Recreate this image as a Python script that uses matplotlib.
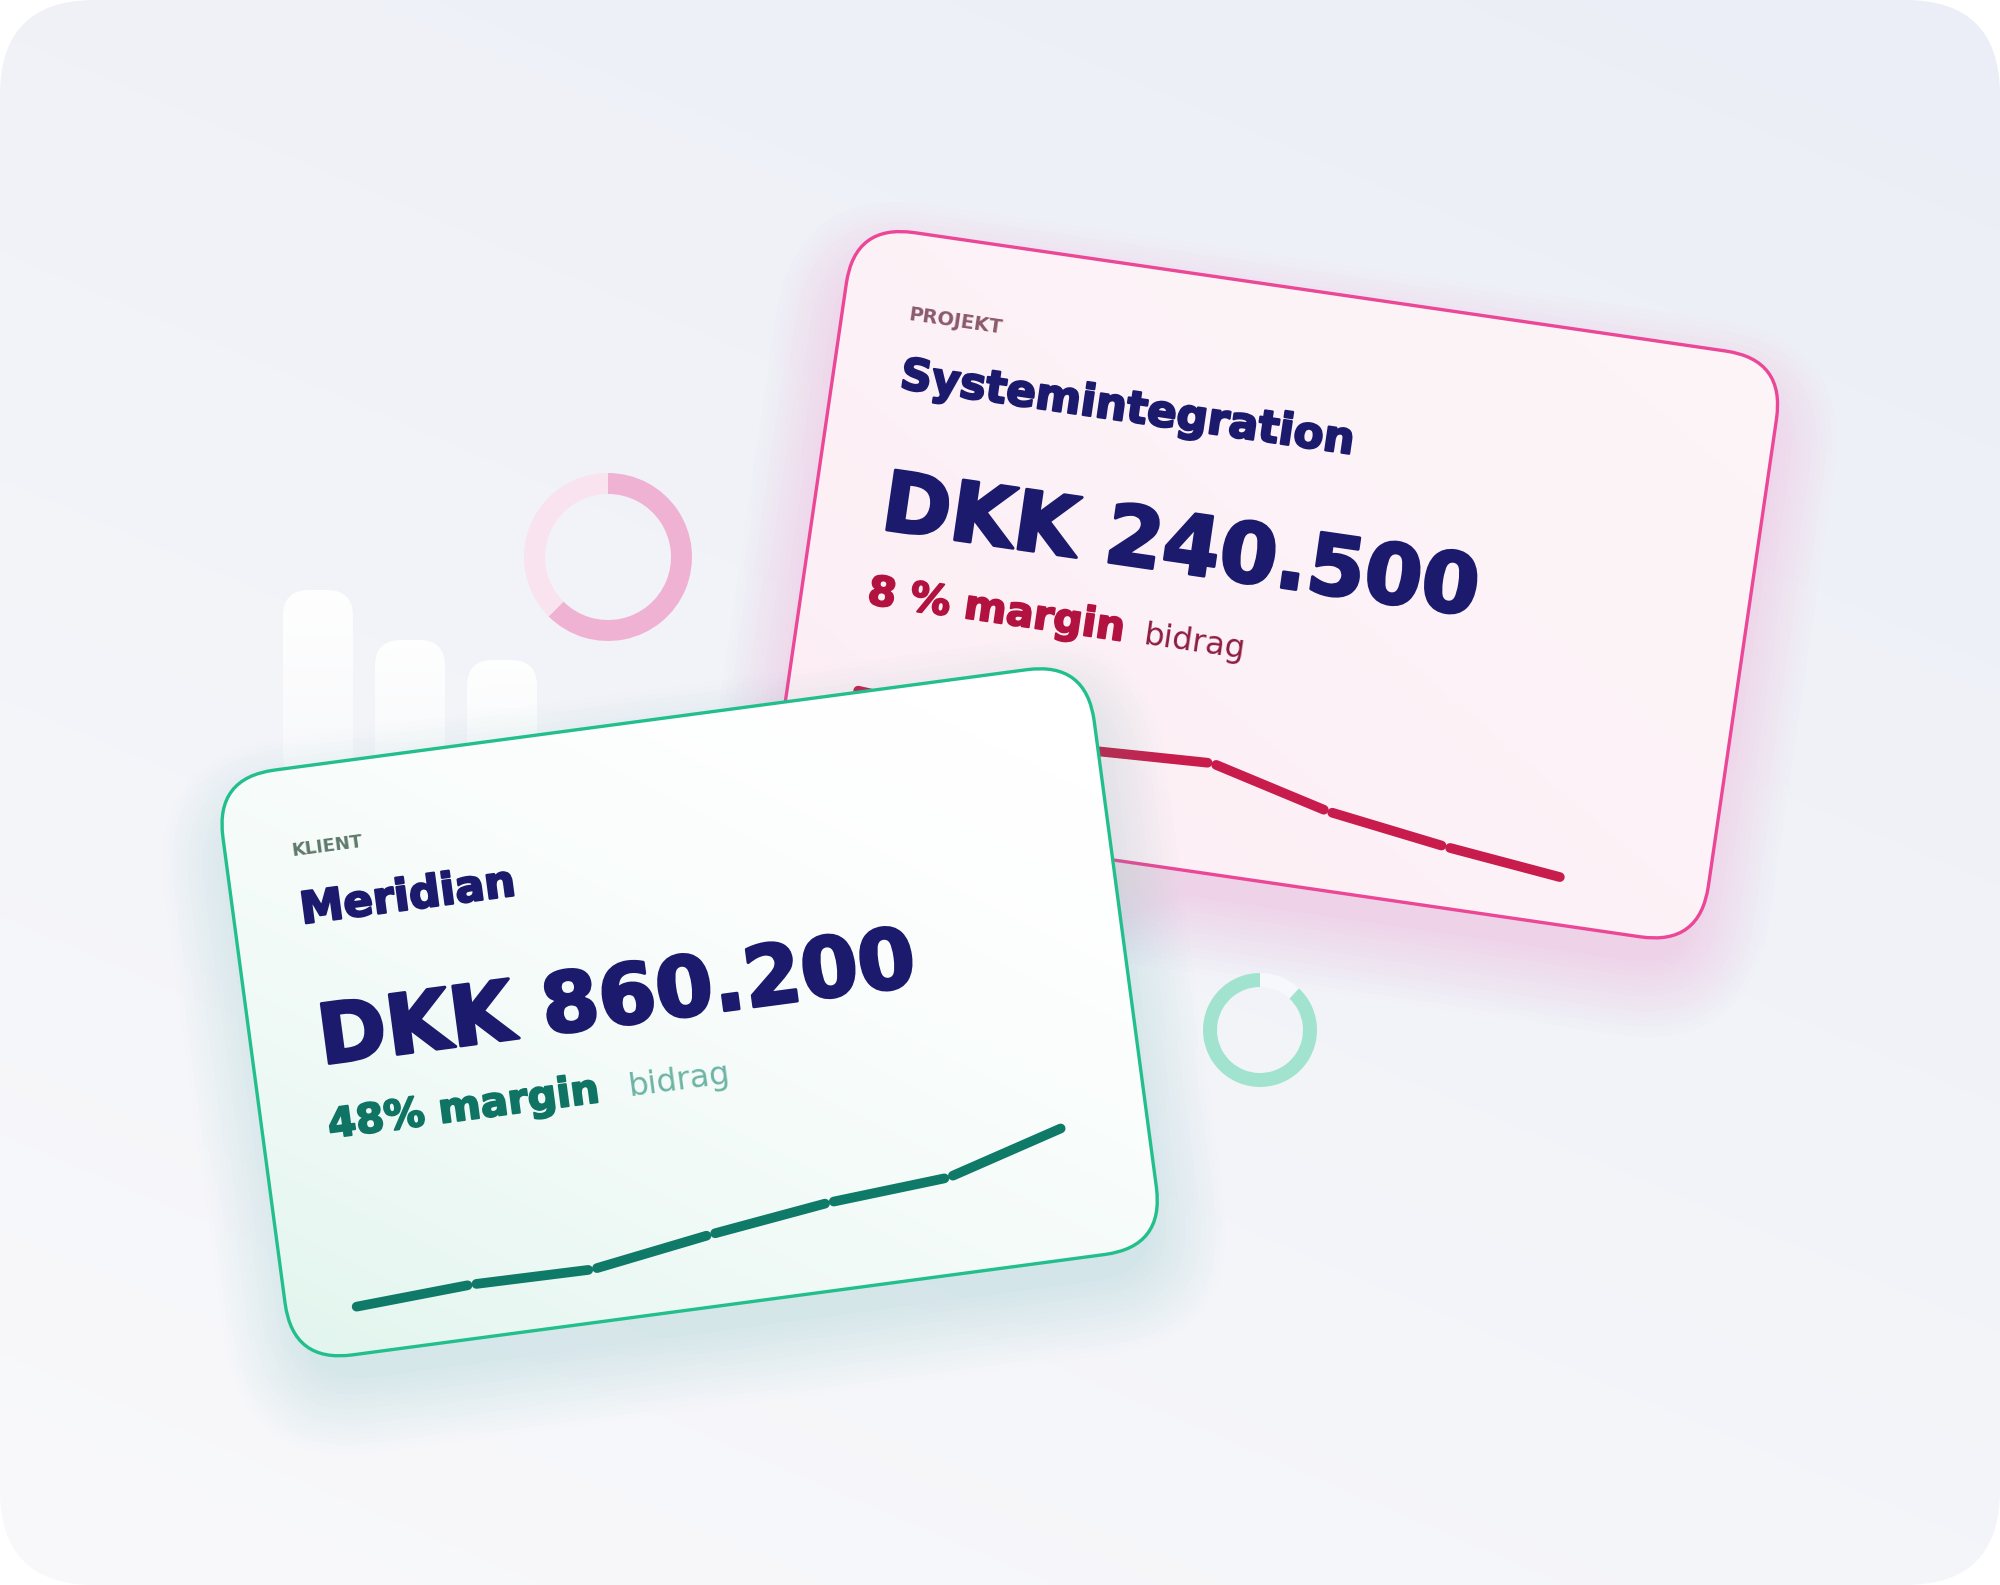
import numpy as np
import matplotlib
matplotlib.use('Agg')
import matplotlib.pyplot as plt
import matplotlib.patheffects as pe
from matplotlib.patches import FancyBboxPatch
from matplotlib.transforms import Affine2D
from matplotlib.colors import LinearSegmentedColormap


# card texts
projekt_label  = "PROJEKT"
projekt_name   = "Systemintegration"
projekt_amount = "DKK 240.500"
projekt_margin = "8 % margin"
klient_label   = "KLIENT"
klient_name    = "Meridian"
klient_amount  = "DKK 860.200"
klient_margin  = "48% margin"
margin_suffix  = "bidrag"

# sparkline values per period (relative index)
projekt_trend = [101, 92, 75, 80, 49, 31, 17]
klient_trend  = [19, 26, 25, 44, 60, 69, 104]

# decorative donuts (share from 12 o'clock, clockwise)
pink_donut  = [62.5, 37.5]
green_donut = [12, 88]

# faint bars in the background
bg_bar_heights = [190, 140, 120]


W_PX, H_PX = 2000, 1585
fig = plt.figure(figsize=(20, 15.85), dpi=100)
fig.patch.set_facecolor('white')
ax = fig.add_axes([0, 0, 1, 1])
ax.axis('off')

# background panel with rounded corners
panel = FancyBboxPatch((0, 0), W_PX, H_PX, boxstyle='round,pad=0,rounding_size=95',
                       facecolor='none', edgecolor='none')
ax.add_patch(panel)
yy, xx = np.mgrid[0:1:300j, 0:1:300j]
bg_grad = 0.65 * yy + 0.35 * (1 - xx)
bg_cmap = LinearSegmentedColormap.from_list('bg', ['#ebeef6', '#f9f9fb'])
im = ax.imshow(bg_grad, cmap=bg_cmap, extent=(0, W_PX, H_PX, 0), aspect='auto',
               interpolation='bilinear', zorder=0)
im.set_clip_path(panel)

# faint white bars fading downwards
bar_base = 780
for i, hgt in enumerate(bg_bar_heights):
    x0 = 283 + i * 92
    bar = FancyBboxPatch((x0, bar_base - hgt), 70, hgt,
                         boxstyle='round,pad=0,rounding_size=26',
                         facecolor='none', edgecolor='none')
    ax.add_patch(bar)
    rgba = np.ones((100, 1, 4))
    rgba[:, 0, 3] = np.linspace(0.95, 0.4, 100)
    bim = ax.imshow(rgba, extent=(x0, x0 + 70, bar_base, bar_base - hgt),
                    aspect='auto', interpolation='bilinear', zorder=1)
    bim.set_clip_path(bar)


def card_tf(x0, y0, angle):
    return Affine2D().rotate_deg(angle).translate(x0, y0)


def draw_card(aff, w, h, c_light, c_tint, edge, glow, z):
    tf = aff + ax.transData
    # soft glow, mostly below the card
    for k in range(16):
        s = k * 5
        ax.add_patch(FancyBboxPatch((-s + 10, -s + 45), w + 2 * s - 20, h + 2 * s - 20,
                     boxstyle=f'round,pad=0,rounding_size={60 + s}', transform=tf,
                     facecolor=glow, edgecolor='none', alpha=0.011, zorder=z))
    body = FancyBboxPatch((0, 0), w, h, boxstyle='round,pad=0,rounding_size=60',
                          transform=tf, facecolor=c_light, edgecolor='none', zorder=z + 0.1)
    ax.add_patch(body)
    # tint towards the lower left corner
    vv, uu = np.mgrid[0:1:200j, 0:1:200j]
    g = np.clip(0.55 * vv + 0.55 * (1 - uu) - 0.1, 0, 1) ** 1.6
    cm = LinearSegmentedColormap.from_list('c', [c_light, c_tint])
    cim = ax.imshow(g, cmap=cm, extent=(0, w, h, 0), aspect='auto',
                    interpolation='bilinear', zorder=z + 0.2)
    cim.set_transform(tf)
    cim.set_clip_path(body)
    ax.add_patch(FancyBboxPatch((0, 0), w, h, boxstyle='round,pad=0,rounding_size=60',
                                transform=tf, facecolor='none', edgecolor=edge,
                                lw=2.4, zorder=z + 0.3))


def card_text(aff, u, v, s, size, color, weight, angle, z, heavy=0):
    t = ax.text(u, v, s, transform=aff + ax.transData, fontsize=size, color=color,
                fontweight=weight, rotation=-angle, rotation_mode='anchor',
                ha='left', va='baseline', zorder=z)
    if heavy:
        # thicken glyphs a little, the original uses a black weight
        t.set_path_effects([pe.withStroke(linewidth=heavy, foreground=color)])


def draw_trend(aff, values, color, z):
    step = 121.7
    spark = Affine2D().scale(step, -1).translate(66, 562) + aff + ax.transData
    for i in range(len(values) - 1):
        v0, v1 = values[i], values[i + 1]
        seg = np.hypot(step, v1 - v0)
        f = 4.5 / seg
        xs = [i + f, i + 1 - f]
        ys = [v0 + f * (v1 - v0), v1 - f * (v1 - v0)]
        ax.plot(xs, ys, transform=spark, color=color, lw=7,
                solid_capstyle='round', zorder=z)


navy = '#1c1a6c'

# back card: project
p_ang = 8.3
p_aff = card_tf(855, 224, p_ang)
draw_card(p_aff, 940, 592, '#fdf4f8', '#fcedf4', '#ec4697', '#ee6fb3', 2)
card_text(p_aff, 66, 87, projekt_label, 14, '#8b5a6b', 'bold', p_ang, 3)
card_text(p_aff, 67, 156, projekt_name, 31.5, navy, 'bold', p_ang, 3, 1.6)
card_text(p_aff, 68, 298, projekt_amount, 59.5, navy, 'bold', p_ang, 3, 2.2)
card_text(p_aff, 66, 374, projekt_margin, 29.3, '#b2123f', 'bold', p_ang, 3, 1.4)
card_text(p_aff, 345, 374, margin_suffix, 23, '#8e1d40', 'normal', p_ang, 3)
draw_trend(p_aff, projekt_trend, '#c81c4d', 3)

# front card: client
g_ang = -7.6
g_aff = card_tf(215, 778, g_ang)
draw_card(g_aff, 879, 590, '#ffffff', '#e2f5ee', '#22bf8c', '#5fd3a8', 5)
card_text(g_aff, 66, 87, klient_label, 13, '#5f7a6d', 'bold', g_ang, 6)
card_text(g_aff, 67, 156, klient_name, 31.5, navy, 'bold', g_ang, 6, 1.6)
card_text(g_aff, 68, 298, klient_amount, 59.5, navy, 'bold', g_ang, 6, 2.2)
card_text(g_aff, 66, 372, klient_margin, 29.3, '#0f7464', 'bold', g_ang, 6, 1.4)
card_text(g_aff, 368, 370, margin_suffix, 23, '#6db4a4', 'normal', g_ang, 6)
draw_trend(g_aff, klient_trend, '#0e7a67', 6)

ax.set_xlim(0, W_PX)
ax.set_ylim(H_PX, 0)


def donut(cx, cy, r, ring, shares, colors):
    half = r * 1.25
    dax = fig.add_axes([(cx - half) / W_PX, 1 - (cy + half) / H_PX,
                        2 * half / W_PX, 2 * half / H_PX])
    dax.pie(shares, colors=colors, startangle=90, counterclock=False,
            wedgeprops=dict(width=ring / r, edgecolor='none'))
    dax.set_xlim(-1.25, 1.25)
    dax.set_ylim(-1.25, 1.25)
    dax.axis('off')


donut(608, 557, 84, 21, pink_donut, ['#f0b2d3', '#f9e3ee'])
donut(1260, 1030, 57, 14, green_donut, ['#f7f8fb', '#a2e3cf'])

fig.savefig('out.png', dpi=100, facecolor='white')
